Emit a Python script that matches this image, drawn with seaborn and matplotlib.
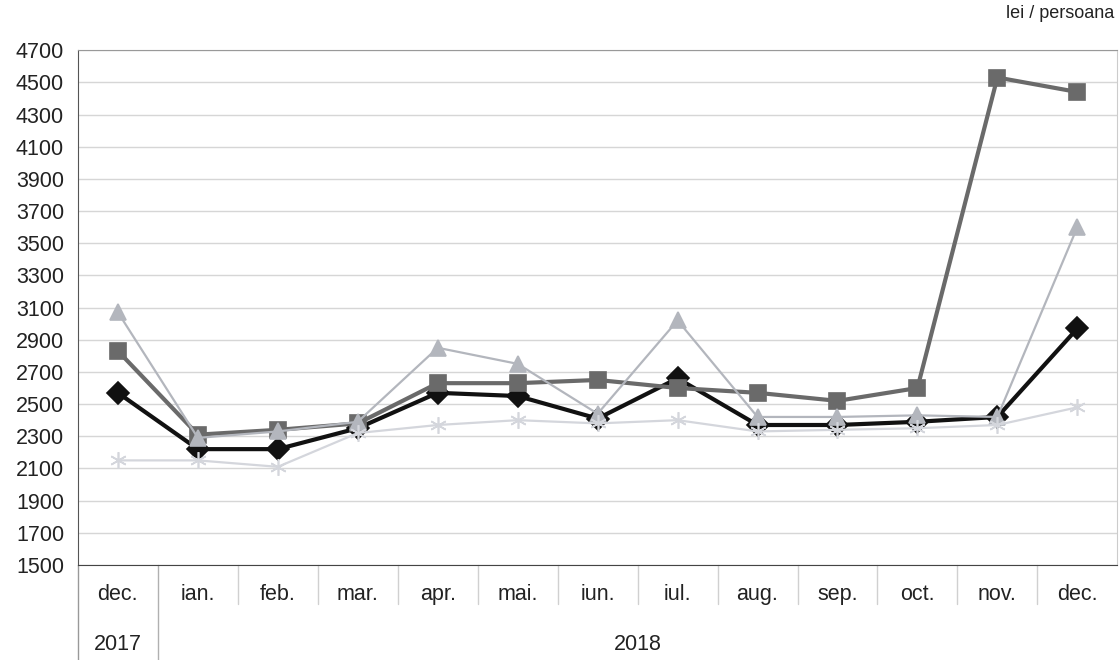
import pandas as pd
import matplotlib.pyplot as plt
import seaborn as sns

# luni (axa x), grupate pe ani
months = ['dec.', 'ian.', 'feb.', 'mar.', 'apr.', 'mai.', 'iun.', 'iul.',
          'aug.', 'sep.', 'oct.', 'nov.', 'dec.']
years = ['2017', '2018']
yearspan = [(0, 0), (1, 12)]

# valori (lei / persoana)
serie_negru = [2570, 2220, 2220, 2350, 2570, 2550, 2410, 2660, 2370, 2370, 2390, 2420, 2970]
serie_patrat = [2830, 2310, 2340, 2380, 2630, 2630, 2650, 2600, 2570, 2520, 2600, 4530, 4440]
serie_triunghi = [3070, 2290, 2330, 2390, 2850, 2750, 2440, 3020, 2420, 2420, 2430, 2420, 3600]
serie_stea = [2150, 2150, 2110, 2320, 2370, 2400, 2380, 2400, 2330, 2340, 2350, 2370, 2480]

yticks = list(range(1500, 4701, 200))
unitlabel = 'lei / persoana'


def main():

    sns.set_style('white')
    plt.rcParams['font.family'] = ['Liberation Sans', 'DejaVu Sans']

    fig = plt.figure(figsize=(11.2, 6.6), dpi=100)
    ax = fig.add_axes([0.0696, 0.144, 0.928, 0.780])

    x = list(range(len(months)))

    #stiluri pentru fiecare serie
    series = [
        (serie_negru, '#111111', 'D', 11, 3.0, 2),
        (serie_patrat, '#6a6a6a', 's', 11.5, 3.0, 3),
        (serie_triunghi, '#b3b6bd', '^', 11.5, 1.6, 4),
        (serie_stea, '#d4d6dc', (6, 2, 0), 12, 1.6, 5),
    ]
    for values, col, mk, ms, lw, z in series:
        sns.lineplot(x=x, y=values, ax=ax, color=col, marker=mk, markersize=ms,
                     linewidth=lw, markeredgecolor=col, markeredgewidth=1.2,
                     zorder=z, legend=False)

    ax.set_xlim(-0.5, len(months) - 0.5)
    ax.set_ylim(yticks[0], yticks[-1])
    ax.set_yticks(yticks)
    ax.set_yticklabels([str(t) for t in yticks], fontsize=15.5, color='#222222')
    ax.tick_params(axis='y', length=4, width=1, color='#555555', pad=6)

    ax.set_xticks(x)
    ax.set_xticklabels(months, fontsize=15.5, color='#222222')
    ax.tick_params(axis='x', length=0, pad=14)

    ax.yaxis.grid(True, color='#d6d6d6', linewidth=1)
    ax.set_axisbelow(True)
    ax.set_xlabel('')
    ax.set_ylabel('')

    ax.spines['left'].set_color('#555555')
    ax.spines['bottom'].set_color('#444444')
    ax.spines['top'].set_color('#999999')
    ax.spines['right'].set_color('#cccccc')

    #separatoare intre categorii sub axa
    trans = ax.get_xaxis_transform()
    for i in range(len(months) - 1):
        if i == 0:
            ax.plot([i + 0.5, i + 0.5], [0, -0.184], transform=trans, color='#b0b0b0',
                    linewidth=1, clip_on=False)
        else:
            ax.plot([i + 0.5, i + 0.5], [0, -0.075], transform=trans, color='#d0d0d0',
                    linewidth=1, clip_on=False)
    ax.plot([-0.5, -0.5], [0, -0.184], transform=trans, color='#999999',
            linewidth=1, clip_on=False)

    #etichete ani
    for year, (a, b) in zip(years, yearspan):
        ax.text((a + b) / 2, -0.155, year, transform=trans, ha='center', va='center',
                fontsize=15.5, color='#222222')

    fig.text(0.995, 0.98, unitlabel, ha='right', va='center', fontsize=13, color='#222222')

    fig.savefig('out.png', dpi=100)


if __name__ == '__main__':

    main()
